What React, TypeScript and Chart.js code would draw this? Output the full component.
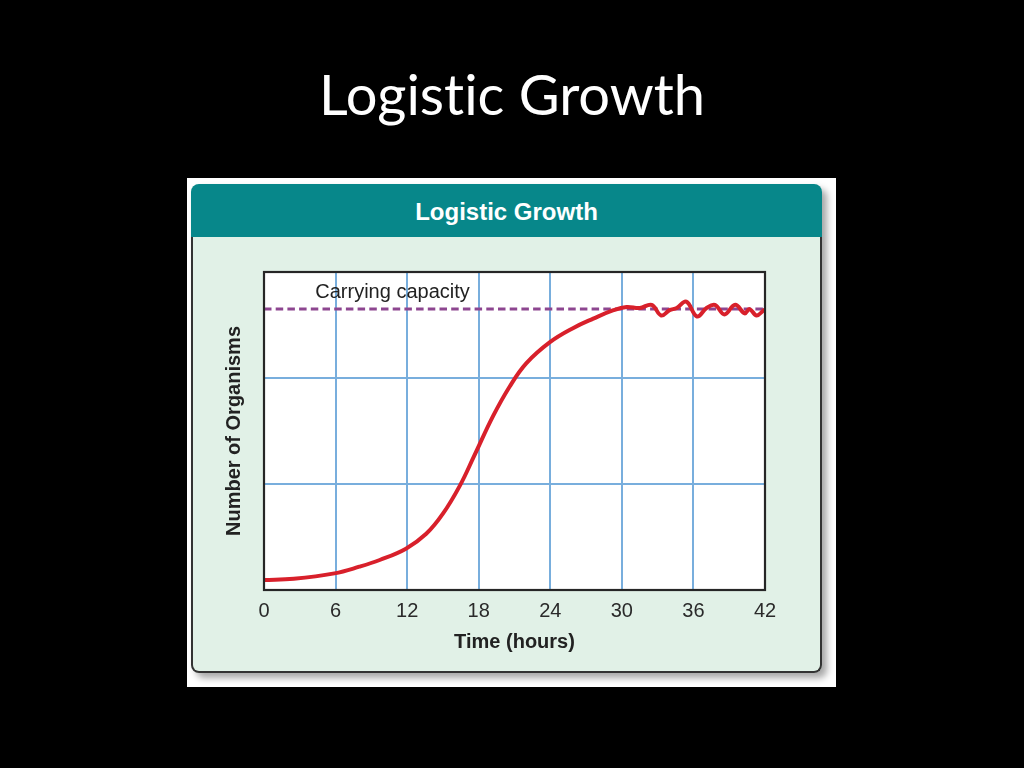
import React, { useEffect, useRef } from "react";
import { Chart, registerables, Plugin } from "chart.js";

Chart.register(...registerables);

// values (y in grid units, 3 units = top of plot)
const timeHours = [
  0, 2.5, 5.9, 8, 9.7, 11.9, 13.6, 15, 16.4, 17.6, 19.2, 20.6, 22, 24, 25.9,
  27.6, 29.3, 30.4, 31.5, 32.5, 33.3, 34.0, 34.6, 35.4, 36.3, 37.1, 37.8, 38.6,
  39.5, 40.3, 40.7, 41.3, 41.9, 42,
];
const organisms = [
  0.094, 0.106, 0.157, 0.22, 0.283, 0.39, 0.53, 0.72, 0.98, 1.26, 1.64, 1.92,
  2.14, 2.34, 2.47, 2.56, 2.64, 2.67, 2.66, 2.69, 2.59, 2.64, 2.66, 2.72, 2.58,
  2.66, 2.69, 2.6, 2.69, 2.61, 2.65, 2.59, 2.64, 2.645,
];
const timeTicks = [0, 6, 12, 18, 24, 30, 36, 42];
const organismGrid = [0, 1, 2, 3];
const carryingCapacity = 2.65;
const capacityLabel = "Carrying capacity";
const capacityLabelAt = 4.3;

const FONT = "'Liberation Sans', Arial, sans-serif";

const plotDecor: Plugin<"line"> = {
  id: "plotDecor",
  beforeDraw(chart) {
    const { ctx, chartArea: a } = chart;
    ctx.save();
    ctx.fillStyle = "#ffffff";
    ctx.fillRect(a.left, a.top, a.right - a.left, a.bottom - a.top);
    ctx.restore();
  },
  afterDatasetsDraw(chart) {
    const { ctx, scales } = chart;
    ctx.save();
    ctx.font = `20px ${FONT}`;
    ctx.fillStyle = "#222222";
    ctx.textAlign = "left";
    ctx.textBaseline = "alphabetic";
    ctx.fillText(
      capacityLabel,
      scales.x.getPixelForValue(capacityLabelAt),
      scales.y.getPixelForValue(carryingCapacity) - 11
    );
    ctx.restore();
  },
  afterDraw(chart) {
    const { ctx, chartArea: a } = chart;
    ctx.save();
    ctx.strokeStyle = "#262626";
    ctx.lineWidth = 2.2;
    ctx.strokeRect(a.left, a.top, a.right - a.left, a.bottom - a.top);
    ctx.restore();
  },
};

const GrowthChart: React.FC = () => {
  const canvasRef = useRef<HTMLCanvasElement>(null);

  useEffect(() => {
    if (!canvasRef.current) return;
    const chart = new Chart(canvasRef.current, {
      type: "line",
      data: {
        datasets: [
          {
            label: "Population",
            data: timeHours.map((t, i) => ({ x: t, y: organisms[i] })),
            borderColor: "#d8202b",
            borderWidth: 4,
            pointRadius: 0,
            tension: 0.4,
            fill: false,
          },
          {
            label: capacityLabel,
            data: [
              { x: timeTicks[0], y: carryingCapacity },
              { x: timeTicks[timeTicks.length - 1], y: carryingCapacity },
            ],
            borderColor: "#8d4690",
            borderWidth: 3,
            borderDash: [7.5, 4.2],
            pointRadius: 0,
            fill: false,
          },
        ],
      },
      options: {
        animation: false,
        responsive: false,
        layout: { padding: { top: 35, right: 55, left: 0, bottom: 0 } },
        plugins: {
          legend: { display: false },
          tooltip: { enabled: false },
        },
        scales: {
          x: {
            type: "linear",
            min: timeTicks[0],
            max: timeTicks[timeTicks.length - 1],
            afterBuildTicks: (scale) => {
              scale.ticks = timeTicks.map((v) => ({ value: v }));
            },
            afterFit: (scale) => {
              scale.height = 81;
            },
            grid: { color: "#78aedd", lineWidth: 2, drawTicks: false },
            border: { display: false },
            ticks: {
              padding: 9,
              color: "#2a2a2a",
              font: { family: FONT, size: 20 },
              maxRotation: 0,
            },
            title: {
              display: true,
              text: "Time (hours)",
              color: "#222222",
              font: { family: FONT, size: 20, weight: "bold" },
              padding: { top: 0, bottom: 17 },
            },
          },
          y: {
            type: "linear",
            min: organismGrid[0],
            max: organismGrid[organismGrid.length - 1],
            afterBuildTicks: (scale) => {
              scale.ticks = organismGrid.map((v) => ({ value: v }));
            },
            afterFit: (scale) => {
              scale.width = 71;
            },
            grid: { color: "#78aedd", lineWidth: 2, drawTicks: false },
            border: { display: false },
            ticks: { display: false },
            title: {
              display: true,
              text: "Number of Organisms",
              color: "#222222",
              font: { family: FONT, size: 20, weight: "bold" },
              padding: { top: 29, bottom: 0 },
            },
          },
        },
      },
      plugins: [plotDecor],
    });
    return () => chart.destroy();
  }, []);

  return <canvas ref={canvasRef} width={627} height={434} />;
};

export default function App() {
  useEffect(() => {
    document.body.style.margin = "0";
    document.body.style.background = "#000";
  }, []);

  return (
    <div
      style={{
        position: "fixed",
        left: 0,
        top: 0,
        width: 1024,
        height: 768,
        background: "#000000",
        overflow: "hidden",
      }}
    >
      <div
        style={{
          position: "absolute",
          left: 0,
          top: 66,
          width: 1024,
          textAlign: "center",
          color: "#ffffff",
          fontFamily: "Lato, 'Open Sans', sans-serif",
          fontSize: 56,
          lineHeight: 1,
          fontVariantLigatures: "none",
        }}
      >
        Logistic Growth
      </div>
      <div
        style={{
          position: "absolute",
          left: 187,
          top: 178,
          width: 649,
          height: 509,
          background: "#ffffff",
        }}
      />
      <div
        style={{
          position: "absolute",
          left: 191,
          top: 184,
          width: 631,
          height: 489,
          borderRadius: 8,
          boxShadow: "5px 5px 7px rgba(0,0,0,0.35)",
          background: "#e1f1e7",
        }}
      >
        <div
          style={{
            height: 53,
            background: "#07878a",
            borderTopLeftRadius: 8,
            borderTopRightRadius: 8,
            color: "#ffffff",
            fontFamily: FONT,
            fontWeight: "bold",
            fontSize: 24,
            lineHeight: "55px",
            textAlign: "center",
          }}
        >
          Logistic Growth
        </div>
        <div
          style={{
            position: "absolute",
            left: 0,
            top: 53,
            width: 631,
            height: 436,
            boxSizing: "border-box",
            border: "2px solid #333333",
            borderTop: "none",
            borderBottomLeftRadius: 8,
            borderBottomRightRadius: 8,
          }}
        >
          <GrowthChart />
        </div>
      </div>
    </div>
  );
}
